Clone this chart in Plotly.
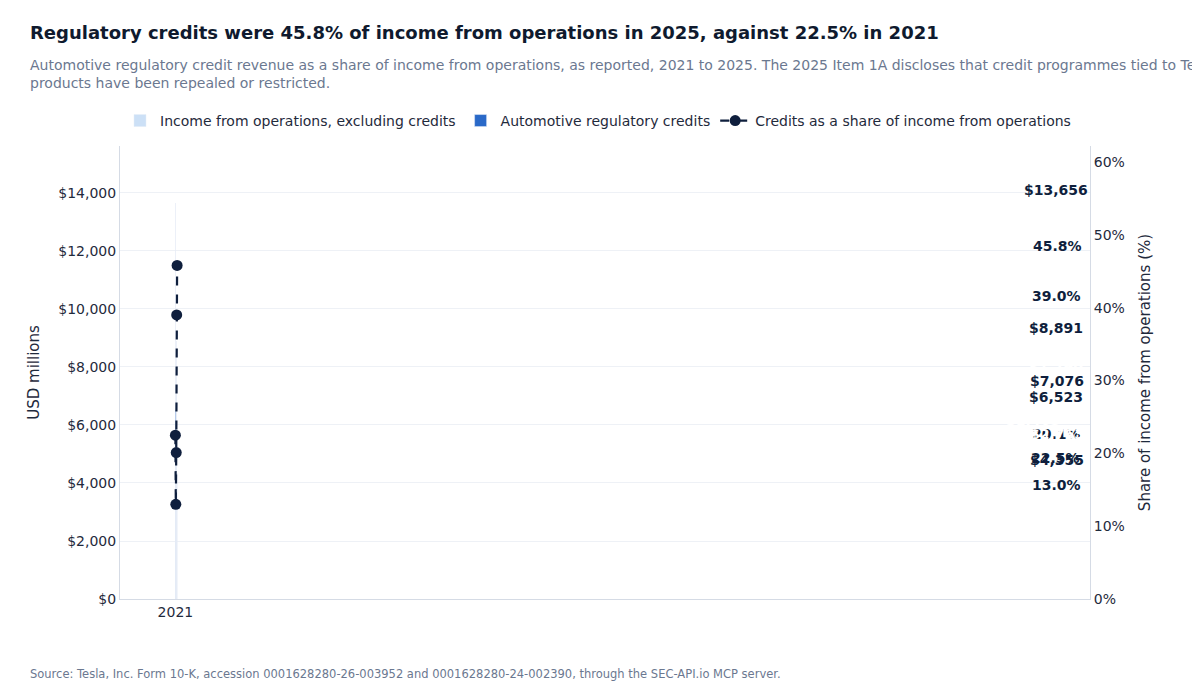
import plotly.graph_objects as go

years = ["2021", "2022", "2023", "2024", "2025"]
totals = [6523, 13656, 8891, 7076, 4355]
credits = [1465, 1776, 1790, 2763, 1993]
shares = [22.5, 13.0, 20.1, 39.0, 45.8]
excl = [t - c for t, c in zip(totals, credits)]

DARK = "#0f1f3d"
TXT = "#1f2a3c"
F = "DejaVu Sans"

fig = go.Figure()
fig.add_bar(x=years, y=excl, name="Income from operations, excluding credits",
            marker_color="#cce0f6", width=0.58, hoverinfo="skip")
fig.add_bar(x=years, y=credits, name="Automotive regulatory credits",
            marker_color="#2a69c8", width=0.58, hoverinfo="skip")
fig.add_scatter(x=years, y=shares, yaxis="y2", name="Credits as a share of income from operations",
                mode="lines+markers", line=dict(color=DARK, width=2.2, dash="dash"),
                marker=dict(size=11, color=DARK))

ann = []
for i, y in enumerate(years):
    ann.append(dict(x=y, y=totals[i], text=f"<b>${totals[i]:,}</b>", showarrow=False,
                    yanchor="bottom", yshift=3, font=dict(size=14, color=DARK)))
    if i == 0:
        ann.append(dict(x=y, y=excl[i] + credits[i] * 0.75, text=f"<b>${credits[i]:,}</b>",
                        showarrow=False, xshift=-23, font=dict(size=14, color="white")))
        ann.append(dict(x=y, y=shares[i], yref="y2", text=f"<b>{shares[i]:.1f}%</b>",
                        showarrow=False, yanchor="top", yshift=-13, font=dict(size=14, color=DARK)))
    else:
        ann.append(dict(x=y, y=excl[i] + credits[i] / 2, text=f"<b>${credits[i]:,}</b>",
                        showarrow=False, font=dict(size=14, color="white")))
        ann.append(dict(x=y, y=shares[i], yref="y2", text=f"<b>{shares[i]:.1f}%</b>",
                        showarrow=False, yanchor="bottom", yshift=9, font=dict(size=14, color=DARK)))

ann.append(dict(xref="paper", yref="paper", x=-0.095, y=1.222, xanchor="left", yanchor="bottom",
                text="<b>Regulatory credits were 45.8% of income from operations in 2025, against 22.5% in 2021</b>",
                showarrow=False, font=dict(size=18, color="#0f1a2e")))
ann.append(dict(xref="paper", yref="paper", x=-0.095, y=1.2, xanchor="left", yanchor="top", align="left",
                text="Automotive regulatory credit revenue as a share of income from operations, as reported, 2021 to 2025. The 2025 Item 1A discloses that credit programmes tied to Tesla's<br>products have been repealed or restricted.",
                showarrow=False, font=dict(size=14, color="#6b7890")))
ann.append(dict(xref="paper", yref="paper", x=-0.095, y=-0.145, xanchor="left", yanchor="top",
                text="Source: Tesla, Inc. Form 10-K, accession 0001628280-26-003952 and 0001628280-24-002390, through the SEC-API.io MCP server.",
                showarrow=False, font=dict(size=11.5, color="#6b7890")))

fig.update_layout(
    width=1200, height=688, barmode="stack", plot_bgcolor="white", paper_bgcolor="white",
    font=dict(family=F, size=14, color=TXT),
    margin=dict(l=112, r=118, t=138, b=97),
    legend=dict(orientation="h", x=0.0, y=1.02, xanchor="left", yanchor="bottom",
                traceorder="normal", font=dict(size=14, color=TXT)),
    xaxis=dict(type="category", showline=True, linecolor="#d5dbe5", ticks="", tickfont=dict(size=14)),
    yaxis=dict(title=dict(text="USD millions", font=dict(size=15)), range=[0, 15620], dtick=2000,
               tickprefix="$", tickformat=",", gridcolor="#eef1f6", showline=True, linecolor="#d5dbe5",
               zeroline=False),
    yaxis2=dict(title=dict(text="Share of income from operations (%)", font=dict(size=15)),
                overlaying="y", side="right", range=[0, 62.2], dtick=10, ticksuffix="%",
                showgrid=False, showline=True, linecolor="#d5dbe5", zeroline=False),
    annotations=ann, showlegend=True,
)
fig.write_html("out.html")
